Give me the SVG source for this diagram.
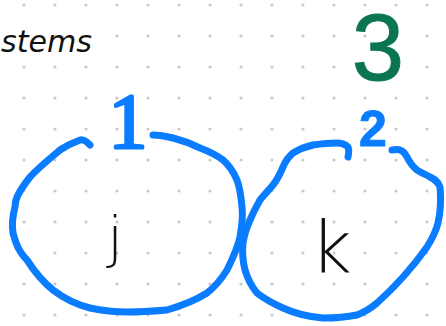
<svg xmlns="http://www.w3.org/2000/svg" width="446" height="326" viewBox="0 0 446 326">
<defs>
<pattern id="dots" x="24" y="5" width="31" height="31" patternUnits="userSpaceOnUse">
<circle cx="0" cy="0" r="1.6" fill="#c9c9c9"/><circle cx="31" cy="0" r="1.6" fill="#c9c9c9"/><circle cx="0" cy="31" r="1.6" fill="#c9c9c9"/><circle cx="31" cy="31" r="1.6" fill="#c9c9c9"/>
</pattern>
<style>
.ink{fill:none;stroke:#0a7cff;stroke-width:7;stroke-linecap:round;stroke-linejoin:round}
.blue{fill:#0a7cff;stroke:#0a7cff;stroke-linejoin:round}
.hand{font-family:"DejaVu Sans","Liberation Sans",sans-serif;font-weight:200;fill:#111}
</style>
</defs>
<rect width="446" height="326" fill="#ffffff"/>
<rect width="446" height="326" fill="url(#dots)"/>
<text x="1" y="52" class="hand" font-size="31" font-style="italic" textLength="91" lengthAdjust="spacingAndGlyphs">stems</text>
<text x="378" y="80" font-family="Liberation Sans,sans-serif" font-size="94" fill="#0b7553" stroke="#0b7553" stroke-width="1" text-anchor="middle">3</text>
<g id="node-j">
<path class="ink" d="M90,145 C86,141 83,139 80,140 C72,143 66,146 60,150 C48,160 38,168 30,177 C20,190 15,198 15,207 C12,218 12,226 13,233 C17,248 21,254 27,260 C36,274 43,282 53,290 C66,300 78,305 90,308 C104,311 116,312 127,312 C143,312 155,311 167,310 C184,305 196,300 207,293 C216,286 222,278 227,270 C234,256 238,246 240,237 C242,226 243,216 242,207 C241,196 240,188 237,180 C233,171 229,165 223,160 C215,154 208,151 200,148 C190,143 181,140 173,138 C165,136 159,135 153,135"/>
<text x="128" y="147" class="blue" font-family="Liberation Serif,serif" font-size="78" stroke-width="3" text-anchor="middle">1</text>
<text x="115" y="256" class="hand" font-size="56" text-anchor="middle">j</text>
</g>
<g id="node-k">
<path class="ink" d="M348,157 C349,152 349,149 348,147 C345,144 341,143 337,143 C328,143 320,144 313,145 C304,147 298,150 293,153 C287,158 285,162 283,167 C280,174 277,180 273,185 C268,191 264,195 260,200 C256,207 253,213 250,220 C246,229 244,236 243,243 C242,253 243,262 245,270 C248,280 252,287 257,293 C266,300 274,304 283,308 C296,314 310,317 323,318 C336,318 347,317 357,315 C365,312 371,308 377,303 C387,294 395,286 403,277 C412,267 420,257 427,247 C432,239 436,231 438,223 C441,210 441,198 440,187 C438,181 434,179 430,177 C425,174 421,173 417,170 C412,166 409,161 407,157 C405,153 403,151 400,150 C397,149 394,150 392,150"/>
<text x="373" y="146" class="blue" font-family="Liberation Sans,sans-serif" font-weight="bold" font-size="50" stroke-width="1" text-anchor="middle">2</text>
<text x="331" y="272" class="hand" font-size="72" text-anchor="middle">k</text>
</g>
<g id="connectors"></g>
</svg>
